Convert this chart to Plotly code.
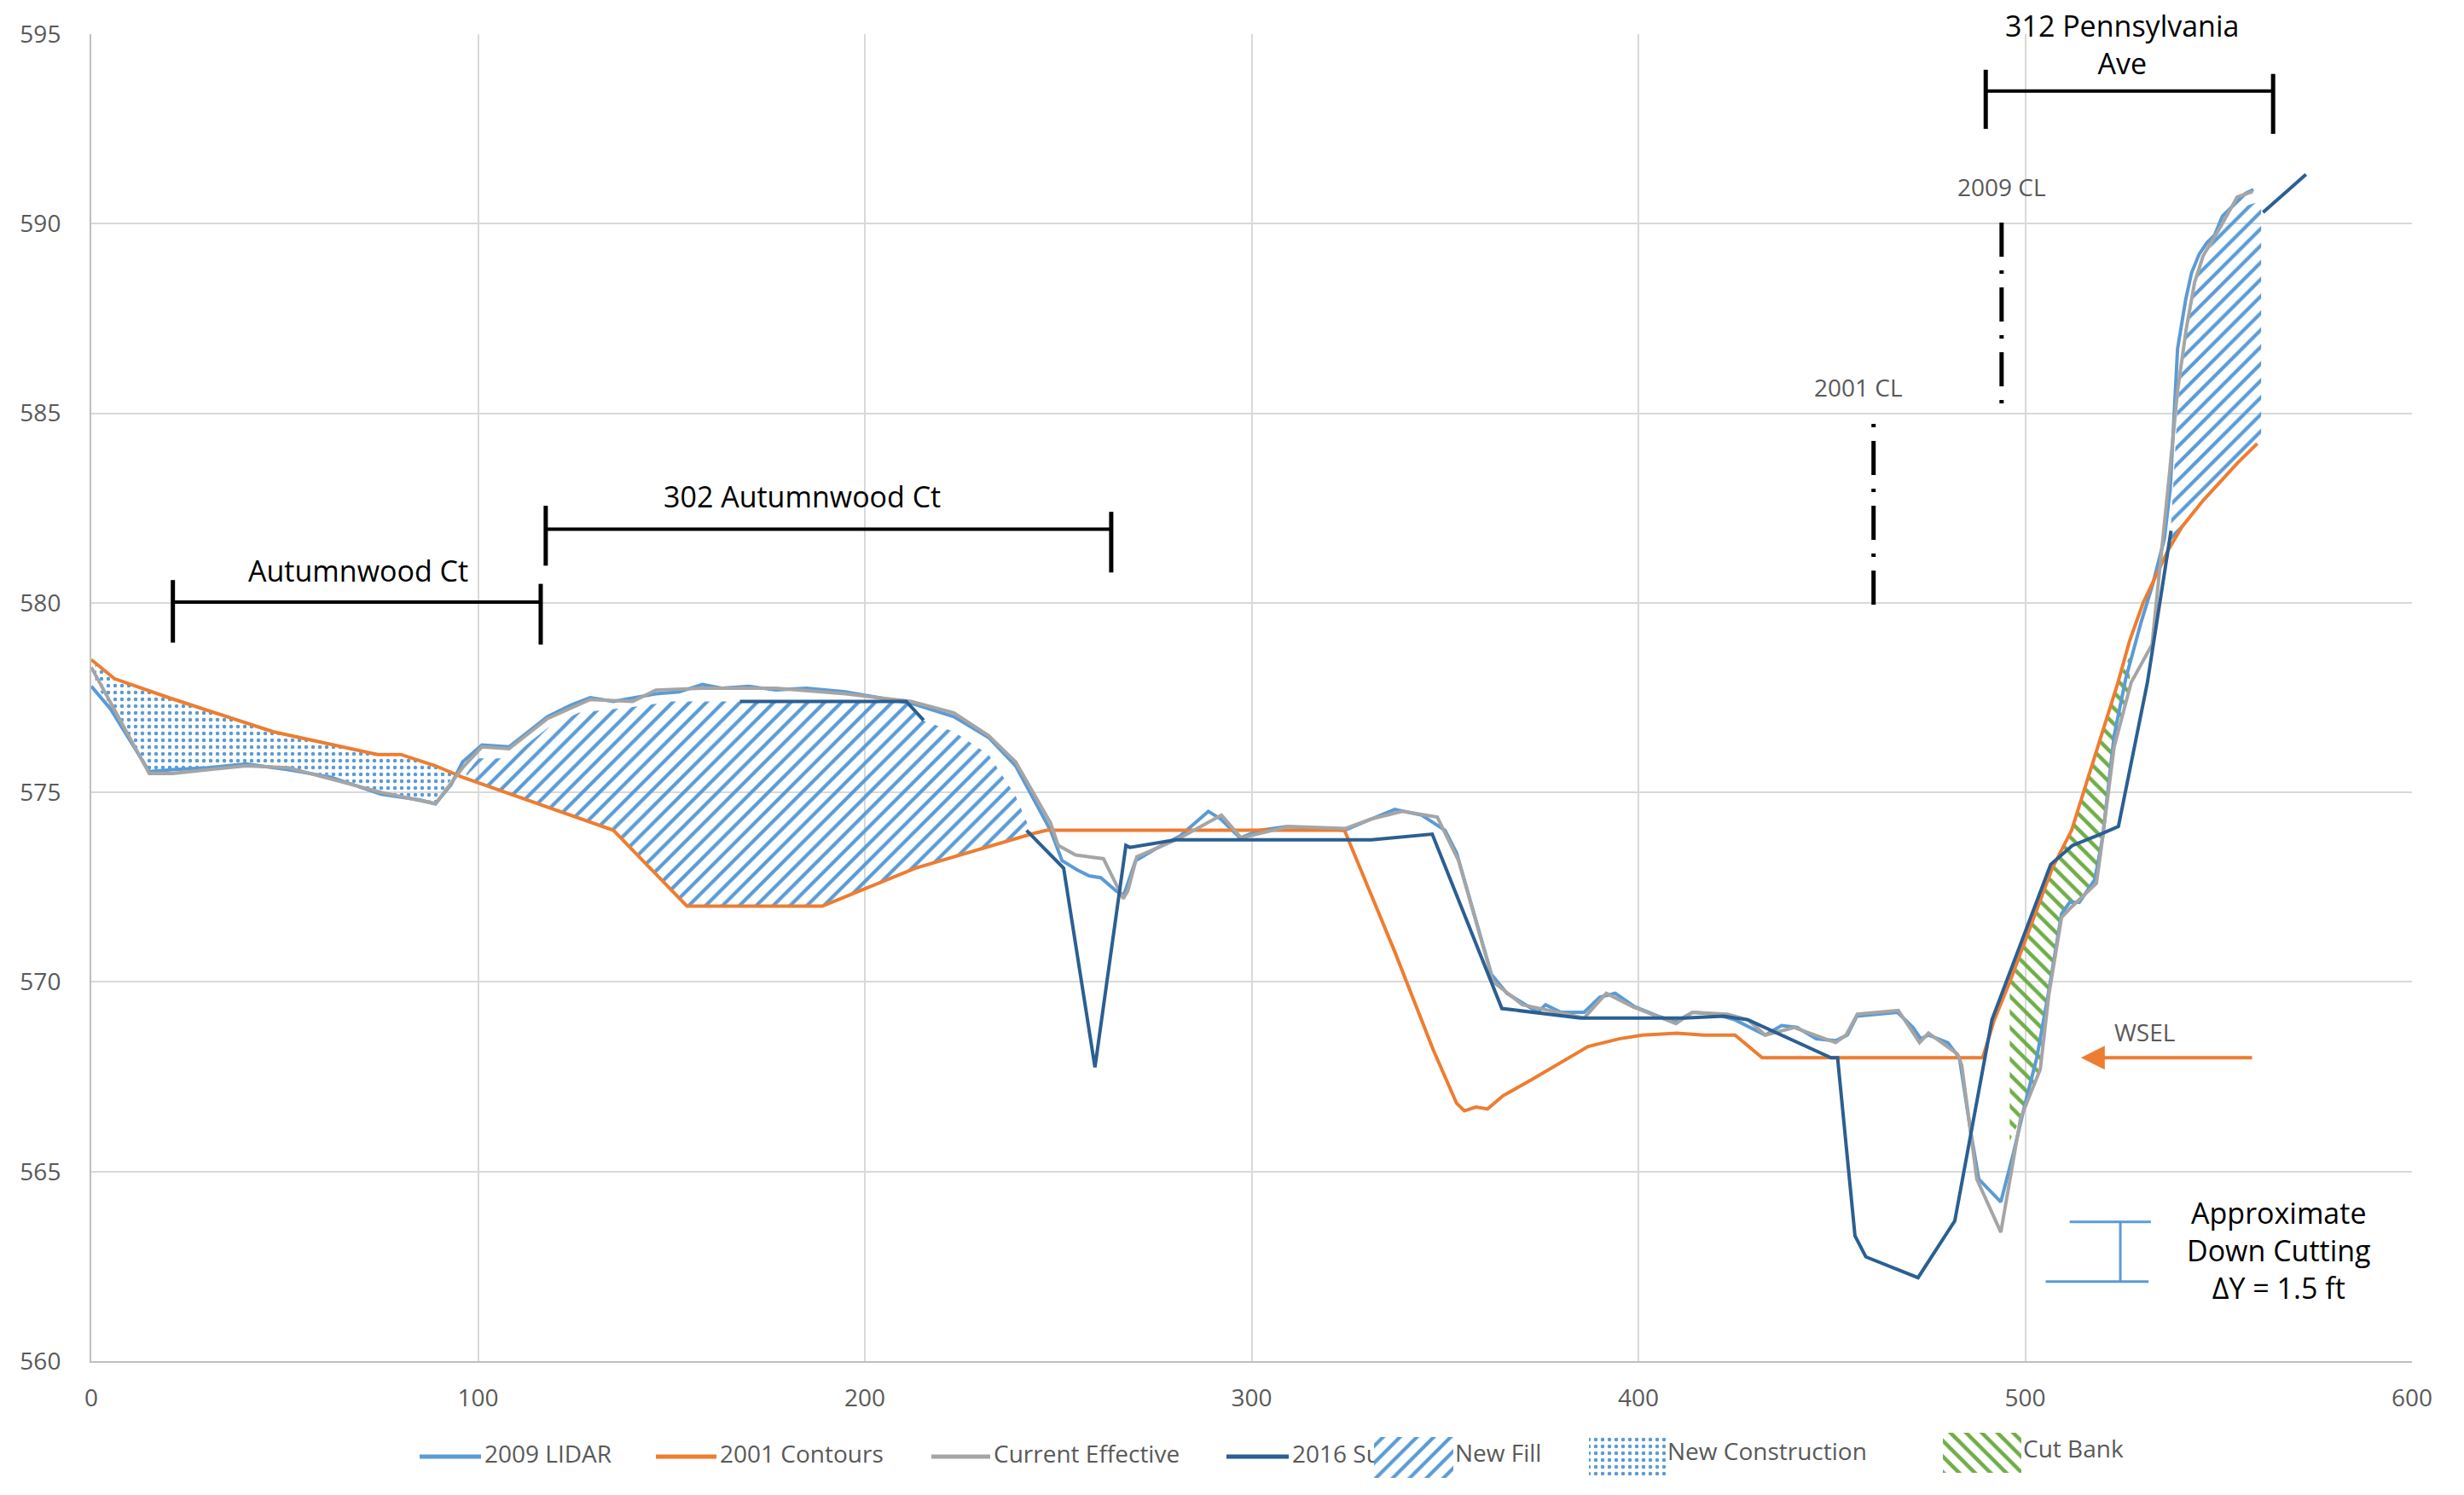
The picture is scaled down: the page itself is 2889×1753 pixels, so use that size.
import plotly.graph_objects as go

# ---------------- data ----------------
lidar_x = [0, 5, 15, 21, 30, 40, 51, 62, 75, 85, 89, 93, 96, 101, 108, 118, 124, 129, 135, 140, 146, 152, 158, 163, 170, 177, 185, 195, 203, 212, 223, 232, 239, 248, 251, 255, 258, 261, 265, 267, 270, 275, 281.5, 288.8, 292, 297, 302, 309, 318, 324, 331, 337, 344, 350, 353, 362, 366, 370, 374, 376, 380, 386, 390, 394, 399, 405, 409.7, 414, 420, 425, 432.8, 437, 441, 446, 451, 454, 456.5, 467, 471, 473, 475, 480, 483, 486, 488, 493.7, 497, 500, 503, 506, 509.4, 511.5, 514, 518, 520, 523, 526, 530, 533, 536, 537.5, 539.4, 541.5, 543, 545, 547, 549, 551, 554, 557, 559]
lidar_y = [577.8, 577.2, 575.55, 575.6, 575.65, 575.75, 575.6, 575.4, 574.95, 574.8, 574.7, 575.2, 575.8, 576.25, 576.2, 577.0, 577.3, 577.5, 577.4, 577.5, 577.6, 577.65, 577.85, 577.75, 577.8, 577.7, 577.75, 577.65, 577.5, 577.35, 577.0, 576.45, 575.7, 574.0, 573.2, 572.95, 572.8, 572.75, 572.4, 572.3, 573.2, 573.5, 573.85, 574.5, 574.3, 573.8, 574.0, 574.1, 574.05, 574.0, 574.3, 574.55, 574.4, 574.0, 573.4, 570.2, 569.7, 569.45, 569.2, 569.4, 569.2, 569.2, 569.6, 569.7, 569.35, 569.1, 568.95, 569.2, 569.15, 569.0, 568.6, 568.85, 568.8, 568.5, 568.45, 568.6, 569.1, 569.2, 568.8, 568.5, 568.6, 568.4, 568.0, 566.0, 564.8, 564.2, 565.5, 566.8, 568.0, 569.7, 571.8, 572.1, 572.1, 572.7, 573.8, 576.5, 578.0, 579.5, 580.5, 581.7, 583.0, 586.7, 588.0, 588.7, 589.2, 589.5, 589.7, 590.2, 590.5, 590.8, 590.9]

contours_x = [0, 6, 20, 38, 47, 74, 80, 89, 96, 135, 154, 189, 213, 243, 247, 324, 331, 337, 347, 353, 355, 358, 361, 365, 372, 382, 387, 395, 401, 410, 417, 425, 432, 489, 492, 496, 507, 512, 518.4, 524, 527, 530.5, 537, 540.5, 546, 555, 560]
contours_y = [578.5, 578.0, 577.5, 576.9, 576.6, 576.0, 576.0, 575.7, 575.4, 574.0, 572.0, 572.0, 573.0, 573.9, 574.0, 574.0, 572.3, 570.8, 568.2, 566.8, 566.6, 566.7, 566.65, 567.0, 567.4, 568.0, 568.3, 568.5, 568.6, 568.65, 568.6, 568.6, 568.0, 568.0, 569.0, 570.0, 573.0, 574.0, 576.1, 577.9, 579.0, 580.0, 581.4, 582.0, 582.7, 583.7, 584.2]

effective_x = [0, 15, 21, 40, 51, 75, 89, 96, 101, 108, 118, 129, 140, 146, 158, 177, 195, 212, 223, 232, 239, 248, 250, 254.5, 261.7, 266.8, 268, 270.3, 274.8, 281.5, 292.2, 297.3, 309.6, 324.3, 331, 339, 348, 353.5, 362.5, 370, 386, 391.7, 398.5, 409.7, 414, 423, 428.4, 432.8, 440.3, 451, 453.7, 456.6, 467.2, 472.7, 475, 482.5, 483.6, 487.5, 493.7, 498.8, 503.9, 506.1, 509.4, 511.7, 518.4, 519.5, 523, 527.4, 532.8, 535, 537.2, 539.4, 541.6, 543.8, 546, 550.4, 554.8, 558.8]
effective_y = [578.3, 575.5, 575.5, 575.7, 575.65, 575.0, 574.7, 575.65, 576.2, 576.15, 576.95, 577.45, 577.4, 577.7, 577.75, 577.75, 577.6, 577.4, 577.1, 576.5, 575.8, 574.2, 573.6, 573.35, 573.25, 572.2, 572.4, 573.3, 573.5, 573.8, 574.4, 573.8, 574.1, 574.05, 574.3, 574.5, 574.35, 573.2, 570.0, 569.4, 569.05, 569.7, 569.35, 568.9, 569.2, 569.15, 569.0, 568.6, 568.8, 568.4, 568.6, 569.15, 569.25, 568.4, 568.65, 568.1, 567.8, 564.8, 563.4, 566.4, 567.7, 569.65, 571.7, 571.95, 572.6, 573.4, 576.2, 577.9, 578.9, 581.0, 583.3, 585.6, 587.2, 588.45, 589.15, 589.9, 590.7, 590.85]

survey_x = [167.7, 210.7, 215.2, None, 241.8, 251.4, 259.5, 267.5, 268.5, 280.4, 331, 346.7, 364.7, 385, 412, 422, 428.4, 449.8, 451.5, 456, 458.8, 472.3, 481.8, 491.4, 506.6, 512.2, 519.5, 524.1, 531.6, 537.7, None, 561.5, 572.6]
survey_y = [577.4, 577.4, 576.9, None, 574.0, 573.0, 567.75, 573.6, 573.55, 573.75, 573.75, 573.9, 569.3, 569.05, 569.05, 569.1, 569.0, 568.0, 568.0, 563.3, 562.75, 562.2, 563.7, 569.0, 573.1, 573.6, 573.9, 574.1, 577.9, 581.9, None, 590.3, 591.3]

# hatched areas (boundary vertices)
fill_left_x = [97, 100, 108, 118, 126, 140, 150, 168, 211, 215, 223, 232, 239, 243, 213, 189, 154, 135, 97]
fill_left_y = [575.5, 575.9, 575.9, 576.7, 577.1, 577.25, 577.4, 577.4, 577.4, 576.9, 576.6, 576.0, 574.9, 573.95, 573.0, 572.0, 572.0, 574.0, 575.4]
fill_right_x = [537.5, 539.5, 541.5, 543.5, 546, 550, 555, 561, 561, 555, 546, 540.5, 537.5]
fill_right_y = [581.7, 585.3, 587.0, 588.3, 589.0, 589.8, 590.4, 590.6, 584.3, 583.7, 582.7, 582.0, 581.6]
construction_x = [1, 6, 20, 38, 47, 74, 80, 89, 94, 89, 85, 75, 62, 51, 40, 30, 21, 15, 5, 1]
construction_y = [578.4, 578.0, 577.5, 576.9, 576.6, 576.0, 576.0, 575.7, 575.5, 574.75, 574.85, 575.0, 575.45, 575.65, 575.75, 575.7, 575.6, 575.55, 577.2, 577.9]
cutbank_x = [496, 496, 500, 507, 512, 518.4, 524, 527, 527, 523, 519.5, 518.4, 511.7, 509.4, 506.1, 503.9, 498.8, 496]
cutbank_y = [565.8, 569.9, 571.0, 573.0, 574.0, 576.1, 577.9, 578.6, 577.8, 576.2, 573.4, 572.6, 571.95, 571.7, 569.65, 567.7, 566.4, 565.8]

x_ticks = [0, 100, 200, 300, 400, 500, 600]
y_ticks = [560, 565, 570, 575, 580, 585, 590, 595]

# property bars: (x start, x end, bar elevation, tick top/bottom left, tick top/bottom right)
bars = [
    (21.1, 116.2, 580.02, (580.6, 578.95), (580.5, 578.9)),
    (117.5, 263.7, 581.94, (582.56, 580.98), (582.4, 580.8)),
    (489.8, 564.1, 593.5, (594.06, 592.5), (593.95, 592.37)),
]
bar_labels = [("Autumnwood Ct", 69.0, 580.86), ("302 Autumnwood Ct", 183.7, 582.8),
              ("312 Pennsylvania<br>Ave", 525.0, 594.73)]

# legend layout (page pixels)
legend_line_names = ["2009 LIDAR", "2001 Contours", "Current Effective", "2016 Survey"]
legend_line_x0 = [492, 769, 1092, 1438]
legend_line_x1 = [564, 840, 1161, 1511]
legend_patch_names = ["New Fill", "New Construction", "Cut Bank"]
legend_patch_x0 = [1611, 1863, 2278]
legend_patch_x1 = [1704, 1953, 2370]
legend_patch_y0 = [1685, 1683, 1680]
legend_patch_y1 = [1733, 1730, 1727]

BLUE = "#5B9BD5"
ORANGE = "#ED7D31"
GRAY = "#A5A5A5"
DARK = "#2B5F91"
GREEN = "#70AD47"
TXT = "#595959"
FONT = "Open Sans"

W, H = 2889, 1753
ML, MR, MT = 107, 61, 40
PLOT_BOTTOM = 1596
ydom0 = (H - PLOT_BOTTOM) / (H - MT)

line_colors = [BLUE, ORANGE, GRAY, DARK]
patterns = [dict(shape="/", fgcolor=BLUE, size=14, solidity=0.3),
            dict(shape=".", fgcolor=BLUE, size=8, solidity=0.25),
            dict(shape="\\", fgcolor=GREEN, size=13, solidity=0.35)]

fig = go.Figure()


def patt(p, bg="rgba(0,0,0,0)"):
    return dict(shape=p["shape"], fgcolor=p["fgcolor"], bgcolor=bg, size=p["size"],
                solidity=p["solidity"], fillmode="replace")


# fills
for fx, fy, p in [(fill_left_x, fill_left_y, patterns[0]), (fill_right_x, fill_right_y, patterns[0]),
                  (construction_x, construction_y, patterns[1]), (cutbank_x, cutbank_y, patterns[2])]:
    fig.add_trace(go.Scatter(x=fx, y=fy, fill="toself", mode="lines", line=dict(width=0, color=p["fgcolor"]),
                             fillcolor="rgba(0,0,0,0)", fillpattern=patt(p), hoverinfo="skip",
                             showlegend=False))

# lines
for xs, ys, nm, c in [(lidar_x, lidar_y, "2009 LIDAR", BLUE), (contours_x, contours_y, "2001 Contours", ORANGE),
                      (effective_x, effective_y, "Current Effective", GRAY), (survey_x, survey_y, "2016 Survey", DARK)]:
    fig.add_trace(go.Scatter(x=xs, y=ys, mode="lines", name=nm, line=dict(color=c, width=4),
                             connectgaps=False, showlegend=False))

# ---- custom legend on a helper pixel-coordinate axis below the plot ----
for nm, x0, x1, c in zip(legend_line_names, legend_line_x0, legend_line_x1, line_colors):
    fig.add_trace(go.Scatter(x=[x0, x1], y=[1708, 1708], mode="lines", line=dict(color=c, width=5),
                             xaxis="x3", yaxis="y3", showlegend=False, hoverinfo="skip"))
    fig.add_trace(go.Scatter(x=[x1 + 4], y=[1708], mode="text", text=[nm], textposition="middle right",
                             textfont=dict(family=FONT, size=28, color=TXT), cliponaxis=False,
                             xaxis="x3", yaxis="y3", showlegend=False, hoverinfo="skip"))
for nm, x0, x1, y0, y1, p in zip(legend_patch_names, legend_patch_x0, legend_patch_x1,
                                 legend_patch_y0, legend_patch_y1, patterns):
    fig.add_trace(go.Scatter(x=[x0, x1, x1, x0, x0], y=[y0, y0, y1, y1, y0], fill="toself", mode="lines",
                             line=dict(width=0, color=p["fgcolor"]), fillcolor="white",
                             fillpattern=patt(p, "white"), xaxis="x3", yaxis="y3",
                             showlegend=False, hoverinfo="skip"))
    fig.add_trace(go.Scatter(x=[x1 + 2], y=[(y0 + y1) / 2 - 2], mode="text", text=[nm],
                             textposition="middle right", cliponaxis=False,
                             textfont=dict(family=FONT, size=28, color=TXT),
                             xaxis="x3", yaxis="y3", showlegend=False, hoverinfo="skip"))

shapes = []
for x0, x1, yb, (lt, lb), (rt, rb) in bars:
    shapes.append(dict(type="line", xref="x", yref="y", x0=x0, x1=x1, y0=yb, y1=yb,
                       line=dict(color="black", width=4)))
    shapes.append(dict(type="line", xref="x", yref="y", x0=x0, x1=x0, y0=lt, y1=lb,
                       line=dict(color="black", width=5)))
    shapes.append(dict(type="line", xref="x", yref="y", x0=x1, x1=x1, y0=rt, y1=rb,
                       line=dict(color="black", width=5)))

# centre-line markers
shapes.append(dict(type="line", xref="x", yref="y", x0=493.9, x1=493.9, y0=590.03, y1=585.2,
                   line=dict(color="black", width=5, dash="40px,16px,4px,16px")))
shapes.append(dict(type="line", xref="x", yref="y", x0=460.8, x1=460.8, y0=579.95, y1=584.77,
                   line=dict(color="black", width=5, dash="40px,16px,4px,16px")))

# down-cutting I-bar
shapes.append(dict(type="line", xref="x", yref="y", x0=511.5, x1=532.5, y0=563.67, y1=563.67,
                   line=dict(color=BLUE, width=3)))
shapes.append(dict(type="line", xref="x", yref="y", x0=505.3, x1=531.9, y0=562.1, y1=562.1,
                   line=dict(color=BLUE, width=3)))
shapes.append(dict(type="line", xref="x", yref="y", x0=524.6, x1=524.6, y0=563.67, y1=562.1,
                   line=dict(color=BLUE, width=3)))

# outer frame (left / right edges)
shapes.append(dict(type="line", xref="x3", yref="paper", x0=4, x1=4, y0=0, y1=1.03,
                   line=dict(color="#D9D9D9", width=3)))
shapes.append(dict(type="line", xref="x3", yref="paper", x0=2887, x1=2887, y0=0, y1=1.03,
                   line=dict(color="#D9D9D9", width=3)))

annotations = []
for txt, ax_, ay_ in bar_labels:
    annotations.append(dict(text=txt, x=ax_, y=ay_, xref="x", yref="y", showarrow=False,
                            font=dict(family=FONT, size=34, color="black"), yanchor="middle"))
annotations.append(dict(text="2009 CL", x=494.0, y=590.97, xref="x", yref="y", showarrow=False,
                        font=dict(family=FONT, size=28, color=TXT)))
annotations.append(dict(text="2001 CL", x=456.9, y=585.69, xref="x", yref="y", showarrow=False,
                        font=dict(family=FONT, size=28, color=TXT)))
annotations.append(dict(text="WSEL", x=530.8, y=568.68, xref="x", yref="y", showarrow=False,
                        font=dict(family=FONT, size=28, color=TXT)))
annotations.append(dict(text="", x=514.4, y=568.0, ax=559.0, ay=568.0, xref="x", yref="y",
                        axref="x", ayref="y", showarrow=True, arrowhead=2, arrowsize=1.4,
                        arrowwidth=4, arrowcolor=ORANGE))
annotations.append(dict(text="Approximate<br>Down Cutting<br>ΔY = 1.5 ft", x=565.6, y=562.92,
                        xref="x", yref="y", showarrow=False,
                        font=dict(family=FONT, size=34, color="black")))

fig.update_layout(
    width=W, height=H,
    margin=dict(l=ML, r=MR, t=MT, b=0, pad=0, autoexpand=False),
    paper_bgcolor="white", plot_bgcolor="white",
    font=dict(family=FONT, size=28, color=TXT),
    shapes=shapes, annotations=annotations,
    showlegend=False,
    xaxis=dict(range=[0, 600], tickvals=x_ticks, showgrid=True, gridcolor="#D9D9D9", gridwidth=2,
               showline=True, linecolor="#BFBFBF", linewidth=2, zeroline=False, ticks="",
               ticklabelstandoff=17, tickfont=dict(family=FONT, size=28, color=TXT), anchor="y",
               automargin=False),
    yaxis=dict(range=[560, 595], tickvals=y_ticks, showgrid=True, gridcolor="#D9D9D9", gridwidth=2,
               showline=True, linecolor="#BFBFBF", linewidth=2, zeroline=False, ticks="",
               ticklabelstandoff=28, tickfont=dict(family=FONT, size=28, color=TXT),
               domain=[ydom0, 1], anchor="x", automargin=False),
    xaxis3=dict(domain=[0, 1], range=[ML, W - MR], visible=False, anchor="y3", fixedrange=True,
                automargin=False),
    yaxis3=dict(domain=[0, ydom0], range=[H, PLOT_BOTTOM], visible=False, anchor="x3", fixedrange=True,
                automargin=False),
)

fig.write_html("out.html", config={"displayModeBar": False},
               post_script="document.body.style.margin='0';")
